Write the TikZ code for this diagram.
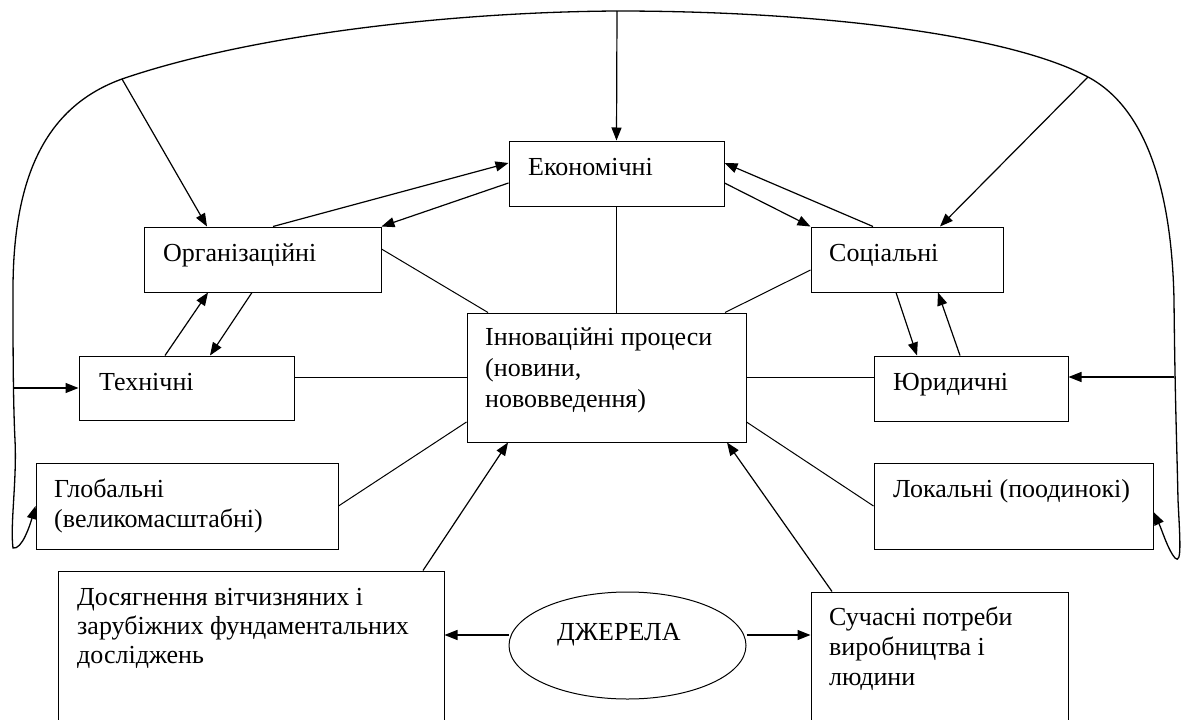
\documentclass[tikz,border=0pt]{standalone}
\usepackage{fontspec}
\setmainfont{Liberation Serif}
\usetikzlibrary{arrows.meta,shapes.geometric}
\tikzset{
  box/.style={draw, line width=1pt, inner sep=0pt, rectangle},
  lbl/.style={anchor=base west, inner sep=0pt, font=\fontsize{26}{31}\selectfont},
  arr/.style={line width=1.2pt, -{Triangle[length=13pt,width=10pt]}},
  ln/.style={line width=1pt},
  outline/.style={line width=1.3pt},
}
\begin{document}
\begin{tikzpicture}[x=1pt,y=-1pt]
\useasboundingbox (0,0) rectangle (1181,720);
\clip (0,0) rectangle (1181,720);

% boxes
\node[box, minimum width=215pt, minimum height=65pt] (ek) at (616.5,173.5) {};
\node[box, minimum width=237pt, minimum height=65pt] (org) at (262.5,259.5) {};
\node[box, minimum width=192pt, minimum height=65pt] (soc) at (907,259.5) {};
\node[box, minimum width=215pt, minimum height=64pt] (tech) at (186.5,388) {};
\node[box, minimum width=194pt, minimum height=65pt] (jur) at (971,388.5) {};
\node[box, minimum width=302pt, minimum height=86pt] (glob) at (187,506) {};
\node[box, minimum width=279pt, minimum height=86pt] (lok) at (1013.5,506) {};
\node[box, minimum width=279pt, minimum height=129pt] (inn) at (606.5,377.5) {};
\node[box, minimum width=386pt, minimum height=170pt] (dos) at (251,656) {};
\node[box, minimum width=257pt, minimum height=150pt] (such) at (939.5,667) {};
\node[draw, ellipse, line width=1pt, inner sep=0pt, minimum width=237pt, minimum height=107pt] (dzh) at (627.5,645.5) {};

% labels
\node[lbl] (ek-t) at (528,175) {Економічні};
\node[lbl] (org-t) at (163,261) {Організаційні};
\node[lbl] (soc-t) at (829,261) {Соціальні};
\node[lbl] (tech-t) at (99,390) {Технічні};
\node[lbl] (jur-t) at (893,390) {Юридичні};
\node[lbl] (glob-t1) at (54,497) {Глобальні};
\node[lbl] (glob-t2) at (54,527) {(великомасштабні)};
\node[lbl] (lok-t) at (893,497) {Локальні (поодинокі)};
\node[lbl] (inn-t1) at (485,345) {Інноваційні процеси};
\node[lbl] (inn-t2) at (485,376) {(новини,};
\node[lbl] (inn-t3) at (485,407) {нововведення)};
\node[lbl] (dos-t1) at (77,605) {Досягнення вітчизняних і};
\node[lbl] (dos-t2) at (77,634) {зарубіжних фундаментальних};
\node[lbl] (dos-t3) at (77,663) {досліджень};
\node[lbl] (such-t1) at (829,625) {Сучасні потреби};
\node[lbl] (such-t2) at (829,655) {виробництва і};
\node[lbl] (such-t3) at (829,685) {людини};
\node[lbl] (dzh-t) at (557,640) {ДЖЕРЕЛА};

% outline points
\coordinate (ctop) at (617,11);
\coordinate (ctl) at (122,79);
\coordinate (ctr) at (1088,77);
\coordinate (cl) at (13,388);
\coordinate (cr) at (1174,377);

% big outline curve
\draw[outline, {Triangle[length=13pt,width=10pt]}-{Triangle[length=13pt,width=10pt]}]
  (glob.west) .. controls (30,525) and (22,550) .. (13,548)
  .. controls (10,525) and (17,480) .. (15,440)
  .. controls (13,400) and (13,340) .. (13,290)
  .. controls (13,170) and (50,105) .. (ctl)
  .. controls (250,35) and (450,12) .. (ctop)
  .. controls (820,11) and (1010,35) .. (ctr)
  .. controls (1150,110) and (1172,200) .. (1174,300)
  .. controls (1175,400) and (1177,450) .. (1178,500)
  .. controls (1180,540) and (1182,565) .. (1175,558)
  .. controls (1168,550) and (1162,530) .. (lok.east |- 0,512);

% arrows from outline
\draw[arr] (ctop) -- (ek.north);
\draw[arr] (ctl) -- (207,0 |- org.north);
\draw[arr] (ctr) -- (940,0 |- soc.north);
\draw[arr] (cl) -- (cl -| tech.west);
\draw[arr] (cr) -- (cr -| jur.east);

% org <-> ek
\draw[arr] (273,0 |- org.north) -- (ek.west |- 0,163);
\draw[arr] (ek.west |- 0,183) -- (org.north east);
% soc <-> ek
\draw[arr] (873,0 |- soc.north) -- (ek.east |- 0,163);
\draw[arr] (ek.east |- 0,183) -- (soc.north west);
% org <-> tech
\draw[arr] (165,0 |- tech.north) -- (208,0 |- org.south);
\draw[arr] (252,0 |- org.south) -- (210,0 |- tech.north);
% soc <-> jur
\draw[arr] (896,0 |- soc.south) -- (917,0 |- jur.north);
\draw[arr] (960,0 |- jur.north) -- (938,0 |- soc.south);

% plain lines to inn
\draw[ln] (ek.south) -- (ek.south |- inn.north);
\draw[ln] (org.east |- 0,249) -- (488,0 |- inn.north);
\draw[ln] (soc.west |- 0,270) -- (725,0 |- inn.north);
\draw[ln] (tech.east |- 0,377) -- (inn.west |- 0,377);
\draw[ln] (jur.west |- 0,377) -- (inn.east |- 0,377);
\draw[ln] (glob.east) -- (inn.west |- 0,422);
\draw[ln] (lok.west) -- (inn.east |- 0,422);

% sources to inn
\draw[arr] (423,0 |- dos.north) -- (508,0 |- inn.south);
\draw[arr] (832,0 |- such.north) -- (727,0 |- inn.south);

% dzherela arrows
\draw[arr] (dzh.west |- 0,635) -- (dos.east |- 0,635);
\draw[arr] (dzh.east |- 0,635) -- (such.west |- 0,635);
\end{tikzpicture}
\end{document}
